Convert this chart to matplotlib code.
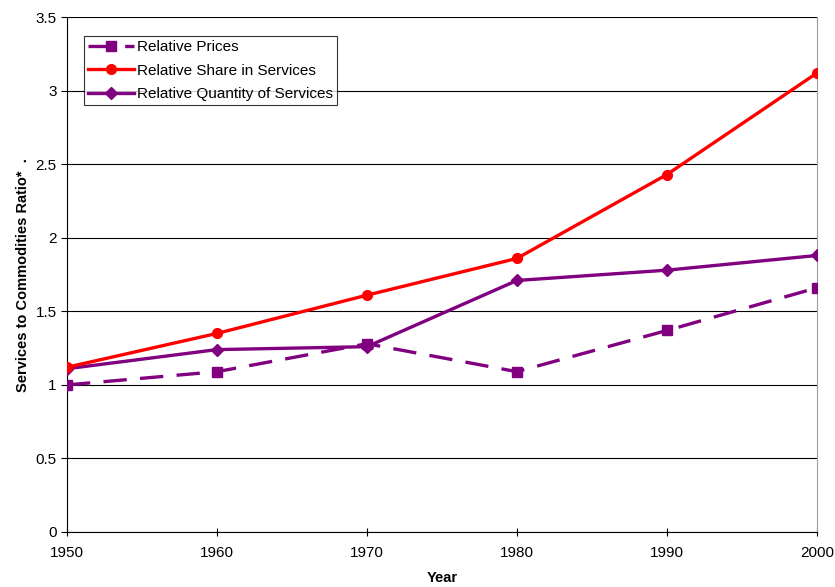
import matplotlib
matplotlib.use("Agg")
import matplotlib.pyplot as plt

plt.rcParams['font.family'] = ['Liberation Sans', 'DejaVu Sans']

years = [1950, 1960, 1970, 1980, 1990, 2000]
relative_prices = [1.00, 1.09, 1.28, 1.09, 1.37, 1.66]
relative_share = [1.12, 1.35, 1.61, 1.86, 2.43, 3.12]
relative_quantity = [1.11, 1.24, 1.26, 1.71, 1.78, 1.88]

fig = plt.figure(figsize=(8.35, 5.87), dpi=100)
ax = fig.add_axes([0.0802, 0.0937, 0.898, 0.877])

purple = '#800080'
red = '#FF0000'

ax.plot(years, relative_prices, color=purple, lw=2.4, dashes=(7, 4), marker='s',
        markersize=7, label='Relative Prices', zorder=3)
ax.plot(years, relative_share, color=red, lw=2.4, marker='o', markersize=7,
        label='Relative Share in Services', zorder=4)
ax.plot(years, relative_quantity, color=purple, lw=2.4, marker='D', markersize=6.5,
        label='Relative Quantity of Services', zorder=3)

ax.set_xlim(1950, 2000)
ax.set_ylim(0, 3.5)
ax.set_xticks(years)
ax.set_yticks([0, 0.5, 1, 1.5, 2, 2.5, 3, 3.5])
ax.set_yticklabels(['0', '0.5', '1', '1.5', '2', '2.5', '3', '3.5'])
ax.yaxis.grid(True, color='black', lw=0.8)
ax.set_axisbelow(True)

ax.spines['top'].set_visible(False)
ax.spines['right'].set_color('#a0a0a0')
ax.spines['left'].set_color('black')
ax.spines['bottom'].set_color('black')
ax.tick_params(axis='x', direction='inout', length=6, labelsize=11, pad=7)
ax.tick_params(axis='y', direction='out', length=4, labelsize=11)

ax.set_xlabel('Year', fontweight='bold', fontsize=10.5, labelpad=8)
ax.set_ylabel('Services to Commodities Ratio*  .', fontweight='bold', fontsize=10.5, labelpad=4)

leg = ax.legend(loc='upper left', bbox_to_anchor=(0.0227, 0.963), frameon=True, fancybox=False,
                edgecolor='black', fontsize=11, borderpad=0.25, labelspacing=0.62,
                handlelength=3.0, handletextpad=0.2, borderaxespad=0)
leg.get_frame().set_linewidth(0.8)

fig.savefig('out.png', dpi=100)
